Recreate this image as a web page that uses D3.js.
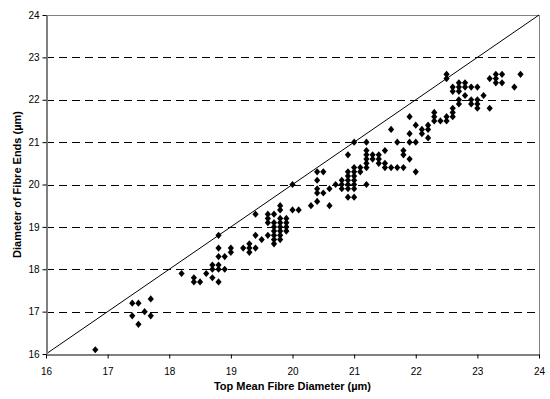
<!DOCTYPE html>
<html>
<head>
<meta charset="utf-8">
<script src="https://cdn.jsdelivr.net/npm/d3@7"></script>
<style>
  body { margin: 0; background: #fff; }
  svg { display: block; font-family: "Liberation Sans", Arial, sans-serif; }
</style>
</head>
<body>
<svg id="chart" width="550" height="399"></svg>
<script>
// top mean fibre diameter (x) and diameter of fibre ends (y), both in µm
const topMean = [
  16.8,
  17.4, 17.4, 17.5, 17.5, 17.6, 17.7, 17.7,
  18.2, 18.4, 18.4, 18.5, 18.6, 18.7, 18.7, 18.7,
  18.8, 18.8, 18.8, 18.8, 18.8, 18.8, 18.9, 18.9, 19.0, 19.0,
  19.2, 19.3, 19.3, 19.3, 19.4, 19.4, 19.4, 19.5,
  19.6, 19.6, 19.6, 19.6,
  19.7, 19.7, 19.7, 19.7, 19.7, 19.7, 19.7,
  19.8, 19.8, 19.8, 19.8, 19.8, 19.8, 19.8, 19.8,
  19.9, 19.9, 19.9, 19.9, 20.0, 20.0, 20.1, 20.3,
  20.4, 20.4, 20.4, 20.4, 20.4, 20.5, 20.5, 20.6, 20.6, 20.7,
  20.8, 20.8, 20.8,
  20.9, 20.9, 20.9, 20.9, 20.9, 20.9, 20.9,
  21.0, 21.0, 21.0, 21.0, 21.0, 21.0, 21.0, 21.0,
  21.1, 21.1,
  21.2, 21.2, 21.2, 21.2, 21.2, 21.2, 21.2,
  21.3, 21.3, 21.4, 21.4, 21.4, 21.5, 21.5, 21.5,
  21.6, 21.6, 21.7, 21.7, 21.8, 21.8, 21.8,
  21.9, 21.9, 21.9, 21.9, 22.0, 22.0, 22.0,
  22.1, 22.1, 22.2, 22.2, 22.2, 22.3, 22.3, 22.3, 22.4,
  22.5, 22.5, 22.5, 22.5,
  22.6, 22.6, 22.6, 22.6, 22.6,
  22.7, 22.7, 22.7, 22.7, 22.7,
  22.8, 22.8, 22.8, 22.9, 22.9, 22.9,
  23.0, 23.0, 23.0, 23.0, 23.1, 23.2, 23.2,
  23.3, 23.3, 23.3, 23.4, 23.4, 23.6, 23.7
];
const fibreEnds = [
  16.1,
  17.2, 16.9, 17.2, 16.7, 17.0, 17.3, 16.9,
  17.9, 17.8, 17.7, 17.7, 17.9, 18.1, 18.0, 17.8,
  18.8, 18.5, 18.3, 18.1, 18.0, 17.7, 18.3, 18.0, 18.5, 18.4,
  18.5, 18.6, 18.5, 18.4, 19.3, 18.8, 18.5, 18.7,
  19.3, 19.2, 19.1, 18.8,
  19.3, 19.1, 19.0, 18.9, 18.8, 18.7, 18.6,
  19.5, 19.4, 19.2, 19.1, 19.0, 18.9, 18.8, 18.7,
  19.2, 19.1, 19.0, 18.9, 20.0, 19.4, 19.4, 19.5,
  20.3, 20.1, 19.9, 19.8, 19.6, 20.3, 19.8, 19.9, 19.5, 20.0,
  20.1, 20.0, 19.9,
  20.7, 20.3, 20.2, 20.1, 20.0, 19.9, 19.7,
  21.0, 20.4, 20.3, 20.2, 20.1, 20.0, 19.9, 19.7,
  20.4, 20.3,
  21.0, 20.8, 20.7, 20.6, 20.5, 20.4, 20.0,
  20.7, 20.6, 20.7, 20.6, 20.5, 20.8, 20.5, 20.4,
  21.3, 20.4, 21.0, 20.4, 20.8, 20.7, 20.4,
  21.6, 21.2, 21.0, 20.6, 21.4, 21.0, 20.3,
  21.3, 21.2, 21.4, 21.3, 21.1, 21.7, 21.6, 21.5, 21.5,
  22.6, 22.5, 21.6, 21.5,
  22.3, 22.2, 21.8, 21.7, 21.6,
  22.4, 22.3, 22.2, 22.0, 21.9,
  22.4, 22.3, 22.1, 22.3, 22.0, 21.9,
  22.3, 22.0, 21.9, 21.8, 22.1, 22.5, 21.8,
  22.6, 22.5, 22.4, 22.6, 22.4, 22.3, 22.6
];
const axisTicks = [16, 17, 18, 19, 20, 21, 22, 23, 24];
const gridTicks = [17, 18, 19, 20, 21, 22, 23, 24];
const xTitle = "Top Mean Fibre Diameter (µm)";
const yTitle = "Diameter of Fibre Ends (µm)";

const points = topMean.map((v, i) => ({ x: v, y: fibreEnds[i] }));

const svg = d3.select("#chart");
const plot = { left: 46, right: 539, top: 15, bottom: 354 };

const x = d3.scaleLinear().domain([16, 24]).range([plot.left, plot.right]);
const y = d3.scaleLinear().domain([16, 24]).range([plot.bottom, plot.top]);

// dashed horizontal gridlines
svg.append("g")
  .selectAll("line")
  .data(gridTicks)
  .join("line")
  .attr("x1", plot.left).attr("x2", plot.right)
  .attr("y1", d => Math.round(y(d)) + 0.5).attr("y2", d => Math.round(y(d)) + 0.5)
  .attr("stroke", "#000").attr("stroke-width", 1)
  .attr("stroke-dasharray", "8,5");

// plot area border (right/top)
svg.append("rect")
  .attr("x", plot.left + 0.5).attr("y", plot.top + 0.5)
  .attr("width", plot.right - plot.left).attr("height", plot.bottom - plot.top)
  .attr("fill", "none").attr("stroke", "#808080").attr("stroke-width", 1);

// 1:1 line
svg.append("line")
  .attr("x1", x(16)).attr("y1", y(16))
  .attr("x2", x(24)).attr("y2", y(24))
  .attr("stroke", "#000").attr("stroke-width", 1);

// axes
const xAxis = d3.axisBottom(x).tickValues(axisTicks).tickSize(4).tickSizeOuter(0).tickFormat(d3.format("d"));
const yAxis = d3.axisLeft(y).tickValues(axisTicks).tickSize(4).tickSizeOuter(0).tickFormat(d3.format("d"));

const gx = svg.append("g").attr("transform", `translate(0,${plot.bottom + 0.5})`).call(xAxis);
const gy = svg.append("g").attr("transform", `translate(${plot.left + 0.5},0)`).call(yAxis);

[gx, gy].forEach(g => {
  g.select(".domain").attr("stroke", "#808080").attr("stroke-width", 2);
  g.selectAll(".tick line").attr("stroke", "#000");
  g.selectAll(".tick text").attr("font-size", 10).attr("fill", "#000")
    .attr("font-family", "Liberation Sans, Arial, sans-serif");
});
gx.selectAll(".tick text").attr("dy", "1.35em");
gy.selectAll(".tick text").attr("x", -7);

// markers
const diamond = {
  draw(ctx, size) {
    const w = 3.1, h = 3.6;
    ctx.moveTo(0, -h);
    ctx.lineTo(w, 0);
    ctx.lineTo(0, h);
    ctx.lineTo(-w, 0);
    ctx.closePath();
  }
};

svg.append("g")
  .selectAll("path")
  .data(points)
  .join("path")
  .attr("transform", d => `translate(${x(d.x)},${y(d.y)})`)
  .attr("d", d3.symbol().type(diamond).size(30))
  .attr("fill", "#000");

// axis titles
svg.append("text")
  .attr("x", (plot.left + plot.right) / 2).attr("y", 390)
  .attr("text-anchor", "middle")
  .attr("font-size", 11).attr("font-weight", "bold")
  .text(xTitle);

svg.append("text")
  .attr("transform", `translate(21,${(plot.top + plot.bottom) / 2}) rotate(-90)`)
  .attr("text-anchor", "middle")
  .attr("font-size", 11).attr("font-weight", "bold")
  .text(yTitle);
</script>
</body>
</html>
